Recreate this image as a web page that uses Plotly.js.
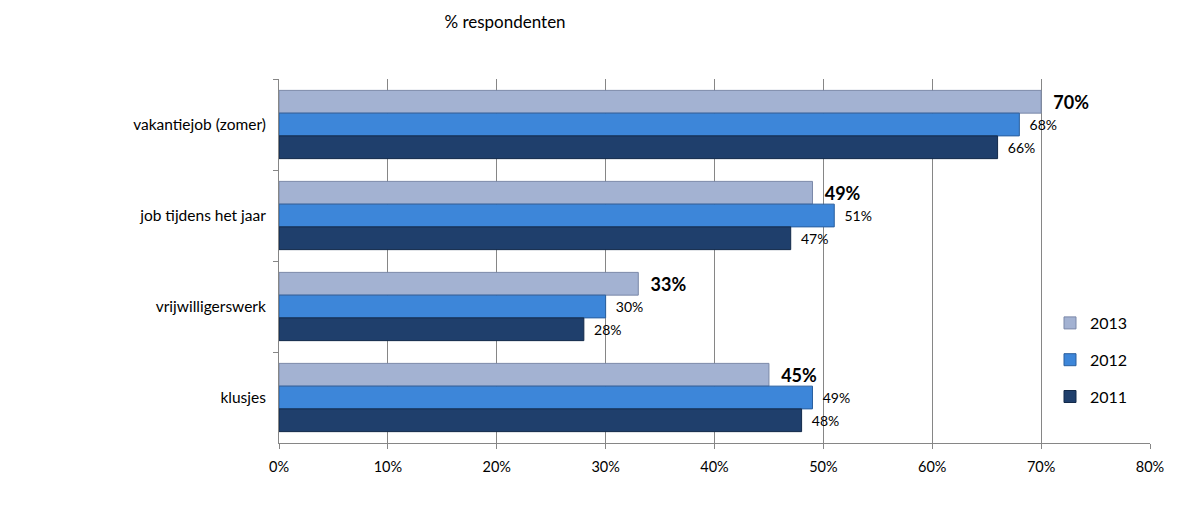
<!DOCTYPE html>
<html>
<head>
<meta charset="utf-8">
<script src="https://cdn.plot.ly/plotly-3.0.1.min.js"></script>
<style>html,body{margin:0;padding:0;background:#fff}#chart{width:1184px;height:513px}</style>
</head>
<body>
<div id="chart"></div>
<script>
const categories = ["vakantiejob (zomer)", "job tijdens het jaar", "vrijwilligerswerk", "klusjes"];
const years = ["2013", "2012", "2011"];
const values2013 = [70, 49, 33, 45];
const values2012 = [68, 51, 30, 49];
const values2011 = [66, 47, 28, 48];
const xTickVals = [0, 10, 20, 30, 40, 50, 60, 70, 80];
const xTickText = ["0%", "10%", "20%", "30%", "40%", "50%", "60%", "70%", "80%"];

const FONT = "Lato, 'Open Sans', sans-serif";
const series = [values2013, values2012, values2011];
const colors = ["#a3b2d2", "#3d86d9", "#1f3f6c"];
const lines = ["#7a88a8", "#2a5f9e", "#132a4a"];
const textSizes = [18, 14, 14];
const bold = [true, false, false];
const pad = "\u00a0\u00a0";

const traces = series.map((vals, i) => ({
  type: "bar",
  orientation: "h",
  name: years[i],
  legendgroup: years[i],
  y: categories,
  x: vals,
  text: vals.map(v => bold[i] ? pad + "<b>" + v + "%</b>" : pad + v + "%"),
  textposition: "outside",
  cliponaxis: false,
  textfont: {family: FONT, size: textSizes[i], color: "#000"},
  marker: {color: colors[i], line: {color: lines[i], width: 1}},
  hoverinfo: "skip"
}));

const layout = {
  width: 1184, height: 513,
  margin: {l: 279, r: 34, t: 79, b: 70},
  paper_bgcolor: "#fff", plot_bgcolor: "#fff",
  font: {family: FONT, size: 14, color: "#000"},
  title: {text: "% respondenten", font: {family: FONT, size: 17, color: "#000"},
          xref: "container", x: 505/1184, xanchor: "center",
          yref: "container", y: 1 - 22/513, yanchor: "middle"},
  barmode: "group", bargap: 0.25, bargroupgap: 0,
  xaxis: {range: [0, 80], tickvals: xTickVals, ticktext: xTickText,
          showgrid: true, gridcolor: "#868686", gridwidth: 1,
          showline: true, linecolor: "#868686", ticks: "outside", ticklen: 5,
          tickcolor: "#868686", ticklabelstandoff: 6, zeroline: false,
          tickfont: {family: FONT, size: 14.5, color: "#000"}},
  yaxis: {autorange: "reversed", type: "category", tickson: "boundaries",
          showline: true, linecolor: "#868686", ticks: "outside", ticklen: 5,
          tickcolor: "#868686", ticklabelstandoff: 9, showgrid: false,
          tickfont: {family: FONT, size: 15.5, color: "#000"}},
  legend: {font: {family: FONT, size: 16, color: "#000"},
           tracegroupgap: 13, bgcolor: "rgba(255,255,255,0)", itemwidth: 30,
           yanchor: "top", xanchor: "left"},
  showlegend: true
};
layout.legend.x = (1050 - 279) / (1184 - 279 - 34);
layout.legend.y = 1 - (306 - 79) / 364;

Plotly.newPlot("chart", traces, layout, {displayModeBar: false, staticPlot: true});
</script>
</body>
</html>
